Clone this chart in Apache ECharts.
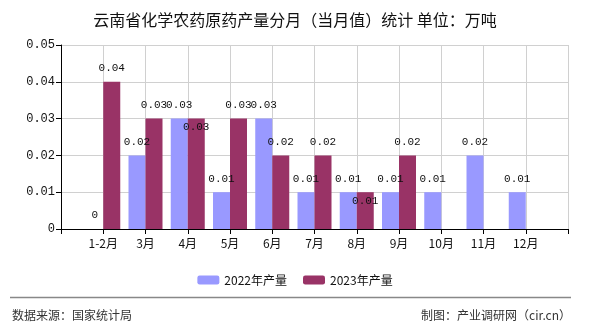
<!DOCTYPE html>
<html><head><meta charset="utf-8">
<script src="https://cdn.jsdelivr.net/npm/echarts@6/dist/echarts.min.js"></script>
<style>html,body{margin:0;padding:0;background:#fff}#c{width:590px;height:330px}</style>
</head><body><div id="c"></div>
<script>
const categories = ['', '1-2月', '3月', '4月', '5月', '6月', '7月', '8月', '9月', '10月', '11月', '12月', ''];
const values2022 = [null, 0, 0.02, 0.03, 0.01, 0.03, 0.01, 0.01, 0.01, 0.01, 0.02, 0.01, null];
const values2023 = [null, 0.04, 0.03, 0.03, 0.03, 0.02, 0.02, 0.01, 0.02, null, null, null, null];
const yTicks = [0, 0.01, 0.02, 0.03, 0.04, 0.05];
const seriesNames = ['2022年产量', '2023年产量'];
const insideLabels2023 = ['4月', '8月'];

const monoFont = '"Liberation Mono", "DejaVu Sans Mono", monospace';
const cjkFont = '"Noto Sans CJK SC", sans-serif';

function mkData(vals, insideCats) {
  return vals.map((v, i) => {
    if (v === null) return null;
    const d = { value: v };
    if (insideCats && insideCats.indexOf(categories[i]) >= 0) {
      d.label = { position: 'insideTop', distance: 3 };
    }
    return d;
  });
}

const chart = echarts.init(document.getElementById('c'));
chart.setOption({
  animation: false,
  backgroundColor: '#fff',
  title: {
    text: '云南省化学农药原药产量分月（当月值）统计 单位：万吨',
    left: 'center', top: 7,
    textStyle: { fontFamily: cjkFont, fontSize: 16, fontWeight: 'normal', color: '#111' }
  },
  legend: {
    data: seriesNames, left: 'center', top: 269,
    itemWidth: 22, itemHeight: 9, itemGap: 16,
    textStyle: { fontFamily: cjkFont, fontSize: 12, color: '#111' }
  },
  grid: { left: 61, right: 22, top: 45, bottom: 101, containLabel: false },
  xAxis: {
    type: 'category', data: categories, boundaryGap: false,
    axisLine: { lineStyle: { color: '#000', width: 1 } },
    axisTick: { show: true, length: 5, lineStyle: { color: '#000' }, interval: 0 },
    axisLabel: { interval: 0, margin: 8, fontFamily: cjkFont, fontSize: 12, color: '#111' },
    splitLine: { show: true, interval: 0, lineStyle: { color: '#d0d0d0' } }
  },
  yAxis: {
    type: 'value', min: yTicks[0], max: yTicks[yTicks.length - 1], interval: 0.01,
    axisLine: { show: true, lineStyle: { color: '#000' } },
    axisTick: { show: true, length: 5, lineStyle: { color: '#000' } },
    axisLabel: { margin: 6, fontFamily: monoFont, fontSize: 12, color: '#111',
      formatter: v => String(Math.round(v * 100) / 100) },
    splitLine: { show: true, lineStyle: { color: '#d0d0d0' } }
  },
  series: [
    {
      name: seriesNames[0], type: 'bar', data: mkData(values2022, null),
      barWidth: 17, barGap: '0%', itemStyle: { color: '#9999FF' },
      label: { show: true, position: 'top', distance: 8, fontFamily: monoFont, fontSize: 11, color: '#111' }
    },
    {
      name: seriesNames[1], type: 'bar', data: mkData(values2023, insideLabels2023),
      barWidth: 17, barGap: '0%', itemStyle: { color: '#993366' },
      label: { show: true, position: 'top', distance: 8, fontFamily: monoFont, fontSize: 11, color: '#111' }
    }
  ],
  graphic: [
    { type: 'line', shape: { x1: 10, y1: 297.5, x2: 571, y2: 297.5 }, style: { stroke: '#888', lineWidth: 1.5 } },
    { type: 'text', left: 12, top: 309, style: { text: '数据来源：国家统计局', font: '12px "Noto Sans CJK SC", sans-serif', fill: '#333' } },
    { type: 'text', right: 19, top: 309, style: { text: '制图：产业调研网（cir.cn）', font: '12px "Noto Sans CJK SC", sans-serif', fill: '#333' } }
  ]
});
</script>
</body></html>
